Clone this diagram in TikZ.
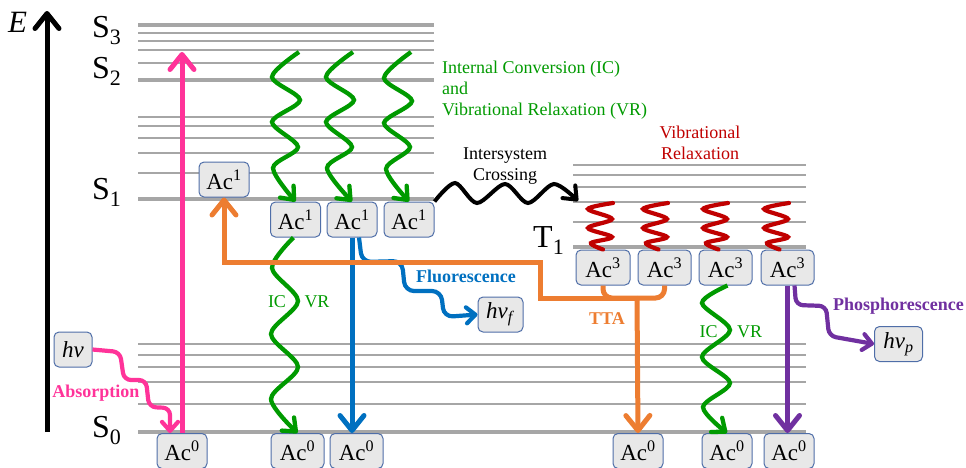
\documentclass[tikz,border=0pt]{standalone}
\usepackage{fontspec}
\setmainfont{Liberation Serif}
\usetikzlibrary{arrows.meta}
\definecolor{lvgray}{HTML}{A6A6A6}
\definecolor{boxfill}{HTML}{E8E8E8}
\definecolor{boxdraw}{HTML}{4F6EA8}
\definecolor{cpink}{HTML}{FF3399}
\definecolor{cgreen}{HTML}{009A00}
\definecolor{cblue}{HTML}{0070C0}
\definecolor{corange}{HTML}{ED7D31}
\definecolor{cpurple}{HTML}{7030A0}
\definecolor{cred}{HTML}{C00000}
\newcommand{\lvsub}[1]{\raisebox{-7pt}{\fontsize{22}{22}\selectfont #1}}
\newcommand{\acs}[1]{Ac\textsuperscript{#1}}
\begin{document}
\begin{tikzpicture}[x=1pt,y=-1pt,
  lvthin/.style={draw=lvgray,line width=2.7pt},
  lvthick/.style={draw=lvgray,line width=4.8pt},
  box/.style={draw=boxdraw,fill=boxfill,line width=1pt,rounded corners=5pt,minimum height=35pt,inner sep=0pt,font=\fontsize{23}{26}\selectfont},
  acbox/.style={box,minimum width=50pt},
  lvlabel/.style={inner sep=0pt,font=\fontsize{32}{34}\selectfont},
  lbl/.style={inner sep=0pt,font=\fontsize{18}{21}\selectfont},
  blbl/.style={inner sep=0pt,font=\fontsize{18}{21}\selectfont\bfseries},
  bigtip/.style={-{Straight Barb[length=15pt,width=24pt,round]}},
  midtip/.style={-{Straight Barb[length=11pt,width=18pt,round]}},
  smalltip/.style={-{Straight Barb[length=9pt,width=16pt,round]}},
  gwave/.style={draw=cgreen,line width=4.3pt,midtip},
  iscwave/.style={draw=black,line width=4pt,midtip},
  rcoil/.style={draw=cred,line width=4.2pt,line cap=round},
  thickarrow/.style={line width=5pt,bigtip},
  thinwave/.style={line width=4.2pt,smalltip,rounded corners=7pt}
]
\useasboundingbox (0,0) rectangle (966,467);

% energy levels
\foreach \yy in {33,41,50,63,117,126,138,153,173} \draw[lvthin] (138,\yy) -- (434,\yy);
\foreach \yy in {25,80,199} \draw[lvthick] (138,\yy) -- (434,\yy);
\foreach \yy in {165,175,187,202,222} \draw[lvthin] (573,\yy) -- (806,\yy);
\draw[lvthick] (573,247) -- (806,247);
\foreach \yy in {344,355,367,382,404} \draw[lvthin] (138,\yy) -- (806,\yy);
\draw[lvthick] (138,432) -- (806,432);

% axis
\coordinate (ebot) at (47,432);
\coordinate (etop) at (47,11);
\draw[thickarrow,black] (ebot) -- (etop);
\node[inner sep=0pt,anchor=base west,font=\fontsize{31}{32}\selectfont\itshape] (elab) at (8,32) {E};

% level labels
\node[lvlabel,anchor=base west] (lS3) at (92,37) {S\lvsub{3}};
\node[lvlabel,anchor=base west] (lS2) at (92,78) {S\lvsub{2}};
\node[lvlabel,anchor=base west] (lS1) at (92,199) {S\lvsub{1}};
\node[lvlabel,anchor=base west] (lS0) at (92,437) {S\lvsub{0}};
\node[lvlabel,anchor=base west] (lT1) at (533,247) {T\lvsub{1}};

% boxes
\node[acbox] (a1top) at (224,179.5) {\acs{1}};
\node[acbox] (s1a) at (295.5,219.5) {\acs{1}};
\node[acbox] (s1b) at (352,219.5) {\acs{1}};
\node[acbox] (s1c) at (409,219.5) {\acs{1}};
\node[acbox,minimum width=54pt] (t1a) at (603,267.5) {\acs{3}};
\node[acbox,minimum width=53pt] (t1b) at (664.5,267.5) {\acs{3}};
\node[acbox,minimum width=53pt] (t1c) at (725.5,267.5) {\acs{3}};
\node[acbox,minimum width=53pt] (t1d) at (787.5,267.5) {\acs{3}};
\node[acbox] (g0a) at (182,451) {\acs{0}};
\node[acbox,minimum width=53pt] (g0b) at (297.5,451) {\acs{0}};
\node[acbox,minimum width=53pt] (g0c) at (356.5,451) {\acs{0}};
\node[acbox] (g0d) at (638,451) {\acs{0}};
\node[acbox] (g0e) at (727,451) {\acs{0}};
\node[acbox] (g0f) at (789,451) {\acs{0}};
\node[box,minimum width=38pt] (hv) at (73,349.5) {\textit{hv}};
\node[box,minimum width=45pt] (hvf) at (500.5,314.5) {\textit{hv}\textsubscript{\textit{f}}};
\node[box,minimum width=48pt] (hvp) at (898.5,344) {\textit{hv}\textsubscript{\textit{p}}};

% absorption
\coordinate (pinktop) at (182,52);
\draw[thickarrow,cpink] (g0a.north) -- (pinktop);
\draw[thinwave,cpink] (hv.east) -- (120,352) -- (124,380) -- (146,380) -- (149,407) -- (170,408) -- ([xshift=-12pt]g0a.north);
\node[blbl,text=cpink,anchor=base] (labs) at (96,397) {Absorption};

% IC + VR from S2
\coordinate (gt1) at (299,52);
\coordinate (gt2) at (353,52);
\coordinate (gt3) at (411,52);
\draw[gwave] plot[smooth] coordinates {(gt1) (272,77) (300,100) (272,122) (298,147) (273,168) (s1a.north)};
\draw[gwave] plot[smooth] coordinates {(gt2) (326,77) (354,100) (326,122) (352,147) (327,168) (s1b.north)};
\draw[gwave] plot[smooth] coordinates {(gt3) (384,78) (412,101) (384,123) (410,147) (386,169) (s1c.north)};
\node[lbl,text=cgreen,anchor=base west] (icl1) at (442,73) {Internal Conversion (IC)};
\node[lbl,text=cgreen,anchor=base west] (icl2) at (442,94) {and};
\node[lbl,text=cgreen,anchor=base west] (icl3) at (442,115) {Vibrational Relaxation (VR)};

% IC VR to S0
\draw[gwave] plot[smooth] coordinates {([xshift=-2pt]s1a.south) (272,268) (298,301) (271,334) (298,367) (271,399) (g0b.north)};
\node[lbl,text=cgreen,anchor=base] (icA) at (277,307) {IC};
\node[lbl,text=cgreen,anchor=base] (vrA) at (317,307) {VR};
\draw[gwave] plot[smooth] coordinates {([xshift=2pt]t1c.south) (702,303) (730,330) (702,357) (730,383) (703,407) (g0e.north)};
\node[lbl,text=cgreen,anchor=base] (icB) at (708.5,337) {IC};
\node[lbl,text=cgreen,anchor=base] (vrB) at (749.5,337) {VR};

% fluorescence
\draw[thickarrow,cblue] (s1b.south) -- (s1b.south |- g0c.north);
\draw[thinwave,cblue,rounded corners=9pt] ([xshift=7pt]s1b.south) -- (362,262) -- (402,261) -- (405,291) -- (441,291) -- (444,317) -- (hvf.west);
\node[blbl,text=cblue,anchor=base] (lfl) at (466,282) {Fluorescence};

% intersystem crossing
\coordinate (iscend) at (578,201);
\draw[iscwave] plot[smooth] coordinates {(s1c.north east) (455,183) (477,203) (505,184) (528,203) (554,184) (iscend)};
\node[lbl,anchor=base] (iscl1) at (505,159) {Intersystem};
\node[lbl,anchor=base] (iscl2) at (505,180) {Crossing};

% vibrational relaxation in T
\foreach \c/\n/\s in {600/t1a/-3,655/t1b/-9,715/t1c/-10,776/t1d/-11}
  \draw[rcoil] plot[smooth,tension=0.55] coordinates {({\c+13},203) ({\c-12},209) ({\c+12},219) ({\c-12},228) ({\c+12},237) ({\c-9},243) ([xshift=\s pt+3pt]\n.north)};
\node[lbl,text=cred,anchor=base] (vrl1) at (700,138) {Vibrational};
\node[lbl,text=cred,anchor=base] (vrl2) at (700,159) {Relaxation};

% TTA
\coordinate (ttaJ) at (637,298);
\coordinate (obend) at (540,262);
\draw[corange,line width=5pt,rounded corners=9pt] (t1a.south) |- (ttaJ);
\draw[corange,line width=5pt,rounded corners=9pt] (t1b.south) |- (ttaJ);
\draw[thickarrow,corange] (ttaJ) -- (g0d.north);
\draw[thickarrow,corange] (ttaJ) -- (obend |- ttaJ) -- (obend) -- (a1top.south |- obend) -- (a1top.south);
\node[blbl,text=corange,anchor=base] (ltta) at (607,324) {TTA};

% phosphorescence
\draw[thickarrow,cpurple] (t1d.south) -- (t1d.south |- g0f.north);
\draw[thinwave,cpurple] ([xshift=7pt]t1d.south) -- (796,305) -- (826,306) -- (829,336) -- (hvp.west);
\node[blbl,text=cpurple,anchor=base] (lph) at (898.5,310) {Phosphorescence};
\end{tikzpicture}
\end{document}
